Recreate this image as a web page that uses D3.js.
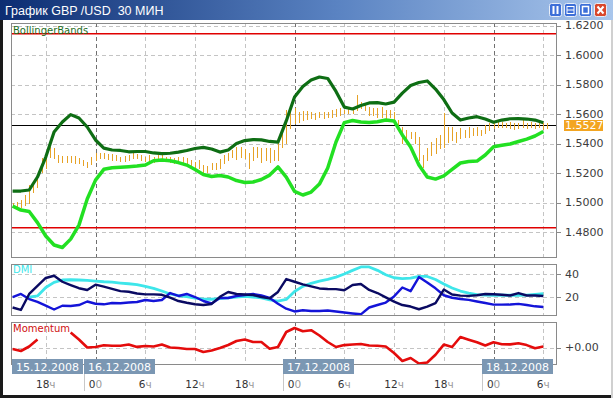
<!DOCTYPE html>
<html><head><meta charset="utf-8">
<script src="https://cdn.jsdelivr.net/npm/d3@7"></script>
<style>html,body{margin:0;padding:0;background:#fff;overflow:hidden}</style>
</head><body>
<svg id="c" width="613" height="398"></svg>
<script>
// ---------------- DATA ----------------
const chartTitle = "График GBP /USD  30 МИН";
const startTime = new Date(2008, 11, 15, 14, 0); // first 30-min bar
// hourly samples (t = 0..64 hours after startTime)
const upperBand = [1.5078,1.5078,1.5085,1.5173,1.5308,1.5478,1.5546,1.5596,1.5573,1.5512,
 1.5424,1.5369,1.5356,1.5353,1.5344,1.5346,1.5346,1.5336,1.5332,1.5334,
 1.5342,1.5353,1.5366,1.5374,1.5363,1.5342,1.5356,1.5400,1.5420,1.5427,
 1.5425,1.5414,1.5410,1.5553,1.5715,1.5786,1.5830,1.5851,1.5841,1.5753,
 1.5647,1.5634,1.5658,1.5675,1.5677,1.5668,1.5681,1.5742,1.5793,1.5814,
 1.5824,1.5769,1.5698,1.5607,1.5559,1.5573,1.5582,1.5566,1.5544,1.5559,
 1.5568,1.5569,1.5566,1.5559,1.5541];
const lowerBand = [1.4976,1.4949,1.4939,1.4864,1.4773,1.4712,1.4695,1.4752,1.4847,1.5024,
 1.5152,1.5225,1.5236,1.5239,1.5243,1.5247,1.5254,1.5283,1.5289,1.5283,
 1.5271,1.5254,1.5224,1.5190,1.5176,1.5183,1.5173,1.5149,1.5136,1.5139,
 1.5156,1.5186,1.5241,1.5173,1.5075,1.5051,1.5071,1.5125,1.5234,1.5410,
 1.5542,1.5556,1.5546,1.5542,1.5548,1.5559,1.5553,1.5458,1.5376,1.5254,
 1.5173,1.5159,1.5180,1.5224,1.5268,1.5278,1.5281,1.5322,1.5378,1.5388,
 1.5397,1.5414,1.5430,1.5451,1.5481];
// 30-minute bars (i = 0..129)
const barHigh = [1.4999,1.5005,1.5017,1.5051,1.5119,1.5130,1.5186,1.5300,1.5322,1.5378,
 1.5368,1.5322,1.5315,1.5315,1.5315,1.5315,1.5300,1.5288,1.5277,1.5311,
 1.5334,1.5334,1.5334,1.5329,1.5327,1.5322,1.5311,1.5315,1.5322,1.5334,
 1.5327,1.5322,1.5311,1.5322,1.5311,1.5322,1.5322,1.5311,1.5311,1.5300,
 1.5311,1.5311,1.5300,1.5288,1.5277,1.5288,1.5254,1.5248,1.5266,1.5266,
 1.5293,1.5322,1.5338,1.5356,1.5374,1.5378,1.5361,1.5334,1.5374,1.5374,
 1.5368,1.5368,1.5368,1.5356,1.5401,1.5514,1.5627,1.5627,1.5639,1.5616,
 1.5622,1.5622,1.5616,1.5609,1.5616,1.5616,1.5616,1.5627,1.5632,1.5639,
 1.5627,1.5643,1.5650,1.5729,1.5683,1.5673,1.5650,1.5639,1.5639,1.5650,
 1.5627,1.5627,1.5616,1.5559,1.5514,1.5492,1.5480,1.5480,1.5446,1.5322,
 1.5368,1.5412,1.5435,1.5458,1.5605,1.5514,1.5514,1.5480,1.5503,1.5492,
 1.5514,1.5503,1.5514,1.5492,1.5525,1.5537,1.5548,1.5548,1.5548,1.5541,
 1.5548,1.5537,1.5541,1.5559,1.5541,1.5548,1.5537,1.5541,1.5537,1.5537];
const barLow = [1.4968,1.4961,1.4972,1.4983,1.4995,1.5073,1.5107,1.5209,1.5232,1.5311,
 1.5300,1.5277,1.5277,1.5277,1.5277,1.5270,1.5266,1.5254,1.5239,1.5261,
 1.5288,1.5300,1.5300,1.5293,1.5288,1.5288,1.5283,1.5283,1.5288,1.5300,
 1.5300,1.5288,1.5283,1.5283,1.5277,1.5288,1.5283,1.5288,1.5277,1.5270,
 1.5277,1.5266,1.5254,1.5234,1.5232,1.5232,1.5209,1.5209,1.5225,1.5225,
 1.5232,1.5266,1.5288,1.5311,1.5293,1.5311,1.5300,1.5232,1.5288,1.5311,
 1.5277,1.5288,1.5277,1.5288,1.5288,1.5378,1.5401,1.5503,1.5537,1.5548,
 1.5559,1.5564,1.5571,1.5564,1.5578,1.5571,1.5578,1.5582,1.5587,1.5593,
 1.5605,1.5605,1.5605,1.5627,1.5639,1.5627,1.5593,1.5593,1.5582,1.5582,
 1.5571,1.5578,1.5537,1.5503,1.5401,1.5424,1.5435,1.5401,1.5288,1.5243,
 1.5288,1.5322,1.5334,1.5368,1.5378,1.5412,1.5424,1.5412,1.5435,1.5446,
 1.5446,1.5458,1.5458,1.5458,1.5469,1.5492,1.5503,1.5514,1.5514,1.5514,
 1.5503,1.5496,1.5503,1.5514,1.5503,1.5510,1.5503,1.5514,1.5496,1.5503];
const lastPrice = 1.5527;
const levelLines = [1.6150, 1.4835];
const priceTicks = [1.48, 1.50, 1.52, 1.54, 1.56, 1.58, 1.60, 1.62];
// DMI (hourly)
const adx = [null,null,20.4,21.3,28.5,32.9,34.9,35.1,34.9,34.5,
 34.0,33.4,33.0,32.3,31.7,30.9,29.5,27.8,25.5,23.0,
 21.5,20.7,19.4,18.6,18.5,19.0,19.6,20.4,21.0,20.4,
 19.6,17.9,17.0,18.3,25.1,29.5,32.1,34.0,35.5,37.3,
 40.0,43.1,46.0,46.0,43.1,39.4,36.8,36.1,36.4,37.9,
 37.9,35.3,31.5,28.1,25.5,23.8,22.4,22.0,21.9,21.9,
 21.9,21.9,22.1,22.7,23.2];
const plusDI = [11.5,9.4,23.0,29.8,36.6,38.5,33.4,30.6,27.9,26.4,
 30.9,29.2,27.4,25.4,24.9,23.4,22.7,22.7,22.3,19.8,
 17.0,15.5,14.3,13.6,14.5,20.6,24.7,23.0,22.6,22.1,
 20.4,19.3,24.7,35.7,33.4,31.1,29.4,27.7,27.2,27.1,
 26.2,30.6,31.5,26.4,23.8,20.1,16.5,13.6,12.3,10.0,
 12.3,15.3,26.8,22.6,21.6,21.4,21.9,23.0,22.8,22.3,
 21.7,23.8,21.7,21.7,21.3];
const minusDI = [20.4,23.0,18.7,16.2,13.1,9.8,13.0,12.8,13.6,16.6,
 14.7,14.2,15.3,15.1,15.7,16.2,17.9,17.0,17.9,23.8,
 21.3,23.0,20.4,17.0,14.9,19.6,19.6,21.3,22.1,23.0,
 21.7,19.6,14.7,10.5,8.1,9.1,8.5,8.5,8.9,8.1,
 7.2,6.4,5.7,11.5,13.6,15.7,20.9,28.5,25.4,37.4,
 32.8,27.8,21.9,19.8,18.7,18.0,16.6,15.3,13.9,13.9,
 14.0,14.6,13.6,12.5,11.9];
const dmiTicks = [20, 40];
// Momentum (hourly)
const momentum = [-0.0015,-0.0035,0.0010,0.0080,null,null,null,0.0150,0.0080,0.0000,
 0.0005,0.0022,0.0017,0.0017,0.0030,0.0006,0.0015,0.0010,0.0030,0.0000,
 -0.0005,-0.0015,-0.0015,-0.0045,-0.0030,-0.0005,0.0025,0.0065,0.0080,0.0055,
 0.0055,-0.0012,0.0005,0.0155,0.0195,0.0162,0.0173,0.0120,0.0055,0.0005,
 0.0024,0.0030,0.0035,0.0020,0.0017,0.0010,-0.0055,-0.0135,-0.0105,-0.0160,
 -0.0150,-0.0072,0.0029,0.0005,0.0105,0.0078,0.0053,0.0020,0.0052,0.0032,
 0.0031,0.0042,0.0024,-0.0008,0.0010];
const momTicks = [0];
const dateLabels = ["15.12.2008", "16.12.2008", "17.12.2008", "18.12.2008"];

// ---------------- DRAWING ----------------
const svg = d3.select("#c");
const L = 11, R = 557;
const hourT = i => new Date(startTime.getTime() + i * 3600e3);
const barT = i => new Date(startTime.getTime() + i * 1800e3);
const x = d3.scaleTime()
  .domain([new Date(2008, 11, 15, 13, 48, 25), new Date(2008, 11, 18, 7, 39, 0)])
  .range([L, R]);

const panels = {
  main: {top: 23, bottom: 258},
  dmi: {top: 264, bottom: 316},
  mom: {top: 322, bottom: 365}
};
const yMain = d3.scaleLinear().domain([1.4624, 1.6217]).range([panels.main.bottom, panels.main.top]);
const yDmi = d3.scaleLinear().domain([4.26, 48.5]).range([panels.dmi.bottom, panels.dmi.top]);
const yMom = d3.scaleLinear().domain([-0.0175, 0.0255]).range([panels.mom.bottom, panels.mom.top]);
const px = v => Math.round(v) + 0.5;

// title bar
const defs = svg.append("defs");
const g1 = defs.append("linearGradient").attr("id", "tb").attr("x1", 0).attr("x2", 1).attr("y1", 0).attr("y2", 0);
g1.append("stop").attr("offset", "0%").attr("stop-color", "#0c2d72");
g1.append("stop").attr("offset", "55%").attr("stop-color", "#5a83c2");
g1.append("stop").attr("offset", "100%").attr("stop-color", "#a9c6ec");
svg.append("rect").attr("x", 0).attr("y", 0).attr("width", 613).attr("height", 20).attr("fill", "url(#tb)");
svg.append("text").attr("x", 5).attr("y", 14.5).attr("fill", "#fff")
  .attr("font-family", "Liberation Sans, Arial, sans-serif").attr("font-size", 12.5)
  .style("white-space", "pre").attr("xml:space", "preserve")
  .text(chartTitle);
// window buttons
const btns = [{x: 549, c: "#3d6fd8", k: "pause"}, {x: 564, c: "#3d6fd8", k: "min"}, {x: 579, c: "#3d6fd8", k: "max"}, {x: 594, c: "#d9472b", k: "close"}];
btns.forEach(b => {
  const g = svg.append("g").attr("transform", `translate(${b.x},3)`);
  g.append("rect").attr("x", 0.5).attr("y", 0.5).attr("width", 12).attr("height", 13).attr("rx", 2)
    .attr("fill", b.c).attr("stroke", "#e8eef8").attr("stroke-width", 1);
  if (b.k === "pause") {
    g.append("rect").attr("x", 3.5).attr("y", 3).attr("width", 2).attr("height", 8).attr("fill", "#fff");
    g.append("rect").attr("x", 7.5).attr("y", 3).attr("width", 2).attr("height", 8).attr("fill", "#fff");
  } else if (b.k === "min") {
    g.append("rect").attr("x", 3).attr("y", 3.5).attr("width", 7).attr("height", 7).attr("fill", "none").attr("stroke", "#fff");
    g.append("line").attr("x1", 3).attr("x2", 10).attr("y1", 7).attr("y2", 7).attr("stroke", "#fff");
  } else if (b.k === "max") {
    g.append("rect").attr("x", 3.5).attr("y", 3.5).attr("width", 6).attr("height", 7).attr("fill", "none").attr("stroke", "#fff").attr("stroke-width", 1.5);
  } else {
    g.append("path").attr("d", "M3.5,3.5L9.5,10.5M9.5,3.5L3.5,10.5").attr("stroke", "#fff").attr("stroke-width", 2);
  }
});

// window frame
svg.append("rect").attr("x", 0).attr("y", 20).attr("width", 3).attr("height", 378).attr("fill", "#1a1a1a");
svg.append("rect").attr("x", 0).attr("y", 395).attr("width", 613).attr("height", 3).attr("fill", "#1a1a1a");
svg.append("rect").attr("x", 611).attr("y", 20).attr("width", 2).attr("height", 378).attr("fill", "#d0d0d0");

const hours6 = d3.timeHour.every(6).range(x.domain()[0], x.domain()[1]);

function panelGrid(p, yTicks, yScale) {
  const g = svg.append("g");
  yTicks.forEach(v => {
    g.append("line").attr("x1", L).attr("x2", R).attr("y1", px(yScale(v))).attr("y2", px(yScale(v)))
      .attr("stroke", "#c4c4c4").attr("stroke-dasharray", "4,3");
  });
  hours6.forEach(t => {
    const day = t.getHours() === 0;
    g.append("line").attr("x1", px(x(t))).attr("x2", px(x(t))).attr("y1", p.top).attr("y2", p.bottom)
      .attr("stroke", day ? "#707070" : "#c4c4c4").attr("stroke-dasharray", "4,3");
  });
}
function panelFrame(p) {
  svg.append("rect").attr("x", L + 0.5).attr("y", p.top + 0.5).attr("width", R - L - 1).attr("height", p.bottom - p.top - 1)
    .attr("fill", "none").attr("stroke", "#8a8a8a");
}
function clip(id, p) {
  defs.append("clipPath").attr("id", id).append("rect").attr("x", L + 1).attr("y", p.top + 1)
    .attr("width", R - L - 2).attr("height", p.bottom - p.top - 2);
}
clip("cm", panels.main); clip("cd", panels.dmi); clip("cmo", panels.mom);

const axisFont = "DejaVu Sans, Verdana, sans-serif";
function rightAxis(p, ticks, yScale, fmt) {
  ticks.forEach(v => {
    const yy = yScale(v);
    svg.append("line").attr("x1", R).attr("x2", R + 4).attr("y1", px(yy)).attr("y2", px(yy)).attr("stroke", "#8a8a8a");
    svg.append("text").attr("x", 565).attr("y", yy).attr("dy", "0.36em").attr("font-family", axisFont)
      .attr("font-size", 11).attr("fill", "#3c3c3c").text(fmt(v));
  });
}

// ---- main panel
panelGrid(panels.main, priceTicks, yMain);
const gm = svg.append("g").attr("clip-path", "url(#cm)");
levelLines.forEach(v => gm.append("rect").attr("x", L).attr("width", R - L)
  .attr("y", Math.round(yMain(v))).attr("height", 1.5).attr("fill", "#e00000"));
gm.append("line").attr("x1", L).attr("x2", R).attr("y1", px(yMain(lastPrice))).attr("y2", px(yMain(lastPrice))).attr("stroke", "#000");
barHigh.forEach((h, i) => {
  gm.append("line").attr("x1", px(x(barT(i)))).attr("x2", px(x(barT(i))))
    .attr("y1", Math.round(yMain(h))).attr("y2", Math.round(yMain(barLow[i])) + 1)
    .attr("stroke", "#e6a226").attr("stroke-width", 1);
});
const lineMain = d3.line().x((d, i) => x(hourT(i))).y(d => yMain(d)).curve(d3.curveLinear);
gm.append("path").attr("d", lineMain(lowerBand)).attr("fill", "none").attr("stroke", "#22e022").attr("stroke-width", 3.5).attr("stroke-linejoin", "round");
gm.append("path").attr("d", lineMain(upperBand)).attr("fill", "none").attr("stroke", "#0e6e14").attr("stroke-width", 3.2).attr("stroke-linejoin", "round");
panelFrame(panels.main);
svg.append("text").attr("x", 13).attr("y", 34).attr("font-family", axisFont).attr("font-size", 10)
  .attr("fill", "#1e6e1e").text("BollingerBands");
rightAxis(panels.main, priceTicks, yMain, d3.format(".4f"));
// last price box
const lpY = yMain(lastPrice);
svg.append("rect").attr("x", 564).attr("y", Math.round(lpY) - 5).attr("width", 39).attr("height", 11).attr("fill", "#f3a521");
svg.append("text").attr("x", 565).attr("y", lpY + 0.5).attr("dy", "0.36em").attr("font-family", axisFont)
  .attr("font-size", 11).attr("fill", "#fff").text(d3.format(".4f")(lastPrice));

// ---- DMI panel
panelGrid(panels.dmi, dmiTicks, yDmi);
const gd = svg.append("g").attr("clip-path", "url(#cd)");
const lineDmi = d3.line().defined(d => d !== null).x((d, i) => x(hourT(i))).y(d => yDmi(d));
gd.append("path").attr("d", lineDmi(adx)).attr("fill", "none").attr("stroke", "#3ee6ea").attr("stroke-width", 2.8).attr("stroke-linejoin", "round");
gd.append("path").attr("d", lineDmi(minusDI)).attr("fill", "none").attr("stroke", "#1414d8").attr("stroke-width", 2.4).attr("stroke-linejoin", "round");
gd.append("path").attr("d", lineDmi(plusDI)).attr("fill", "none").attr("stroke", "#0a0a62").attr("stroke-width", 2.4).attr("stroke-linejoin", "round");
panelFrame(panels.dmi);
svg.append("text").attr("x", 13).attr("y", 273).attr("font-family", axisFont).attr("font-size", 10)
  .attr("fill", "#3ee6ea").text("DMI");
rightAxis(panels.dmi, dmiTicks, yDmi, d3.format("d"));

// ---- Momentum panel
panelGrid(panels.mom, momTicks, yMom);
const gmo = svg.append("g").attr("clip-path", "url(#cmo)");
const lineMom = d3.line().defined(d => d !== null).x((d, i) => x(hourT(i))).y(d => yMom(d));
gmo.append("path").attr("d", lineMom(momentum)).attr("fill", "none").attr("stroke", "#e40c0c").attr("stroke-width", 2.6).attr("stroke-linejoin", "round");
panelFrame(panels.mom);
svg.append("text").attr("x", 13).attr("y", 332).attr("font-family", axisFont).attr("font-size", 10)
  .attr("fill", "#d01010").text("Momentum");
rightAxis(panels.mom, momTicks, yMom, v => "+" + d3.format(".2f")(v));

// ---- time axis
hours6.forEach(t => {
  const h = t.getHours();
  const tx = svg.append("text").attr("x", x(t)).attr("y", 388).attr("text-anchor", "middle")
    .attr("font-family", axisFont).attr("font-size", 10.5);
  if (h === 0) {
    tx.append("tspan").attr("fill", "#333").text("0");
    tx.append("tspan").attr("fill", "#9a9a9a").text("0");
  } else {
    tx.append("tspan").attr("fill", "#333").text(String(h));
    tx.append("tspan").attr("fill", "#9a9a9a").text("ч");
  }
});
// date boxes
const dayStarts = [x.domain()[0], new Date(2008, 11, 16), new Date(2008, 11, 17), new Date(2008, 11, 18)];
dayStarts.forEach((d, i) => {
  const bx = Math.max(L + 1, Math.round(x(d)) - 12);
  if (i > 0) svg.append("line").attr("x1", bx + 0.5).attr("x2", bx + 0.5).attr("y1", 374).attr("y2", 391).attr("stroke", "#c8c8c8");
  svg.append("rect").attr("x", bx).attr("y", 359).attr("width", 71).attr("height", 15).attr("fill", "#7b97b3");
  svg.append("text").attr("x", bx + 35.5).attr("y", 370.5).attr("text-anchor", "middle")
    .attr("font-family", axisFont).attr("font-size", 11).attr("fill", "#fff").text(dateLabels[i]);
});
</script>
</body></html>
